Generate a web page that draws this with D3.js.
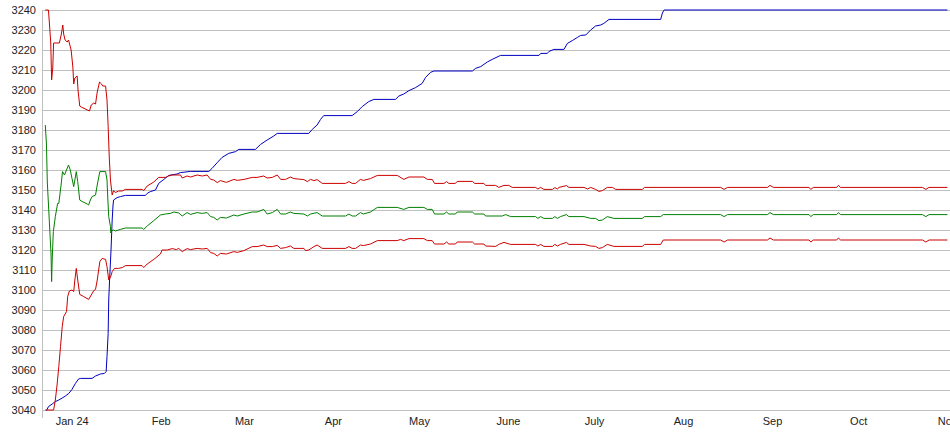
<!DOCTYPE html>
<html>
<head>
<meta charset="utf-8">
<script src="https://cdn.jsdelivr.net/npm/d3@7"></script>
<style>
  body { margin: 0; background: #fff; }
  svg { display: block; }
  .tick text { font-family: "Liberation Sans", Arial, sans-serif; font-size: 11px; fill: #222; }
</style>
</head>
<body>
<svg id="chart" width="950" height="435"></svg>
<script>
'use strict'

// series are [days since start, price]
var startDate = new Date(2023, 11, 22);
var endDate = new Date(2024, 10, 2);

var monthLabels = ["Jan 24", "Feb", "Mar", "Apr", "May", "June", "July", "Aug", "Sep", "Oct", "Nov"];
var priceTicks = [3040, 3050, 3060, 3070, 3080, 3090, 3100, 3110, 3120, 3130, 3140,
  3150, 3160, 3170, 3180, 3190, 3200, 3210, 3220, 3230, 3240];

var upperBand = [
  [0.8, 3240], [1.9, 3240], [2.2, 3234], [2.7, 3223.5], [3.0, 3205], [3.4, 3211], [3.7, 3223.5],
  [5.7, 3223.5], [6.4, 3228], [6.9, 3232.5], [7.2, 3228], [7.7, 3225], [8.4, 3224], [8.9, 3225],
  [9.8, 3220], [10.4, 3211.5], [10.7, 3203], [11.1, 3206], [11.9, 3207], [12.2, 3200], [12.8, 3192],
  [13.3, 3191.5], [16.2, 3189.5], [16.8, 3192.5], [17.7, 3193.5], [18.3, 3193], [18.9, 3199],
  [19.7, 3204], [20.4, 3203], [20.8, 3202], [21.8, 3202], [22.3, 3195], [22.7, 3181.7], [23.1, 3166],
  [23.5, 3155], [24.1, 3147.5], [24.6, 3149.7], [25.2, 3148.7], [26.3, 3149.5], [27.6, 3149.5],
  [28.7, 3150.3], [34.5, 3150.3], [35.1, 3149.7], [36.3, 3152], [38.6, 3154], [40.3, 3156.3],
  [42.7, 3156.3], [43.8, 3157], [45.0, 3157.5], [47.9, 3157.5], [48.5, 3156], [50.2, 3157],
  [51.4, 3156.5], [53.7, 3157.5], [55.5, 3157], [57.2, 3157.5], [58.4, 3155.3], [59.5, 3155],
  [60.7, 3153.7], [61.8, 3154.7], [63.9, 3153.8], [66.5, 3155.3], [67.7, 3154.8], [70.0, 3155.3],
  [72.9, 3156.3], [74.6, 3156.3], [76.9, 3157], [78.1, 3156], [79.9, 3156.3], [81.6, 3157.5],
  [82.8, 3155.3], [84.5, 3155.3], [86.2, 3156.5], [87.4, 3155.7], [90.9, 3155.2], [92.1, 3154.2],
  [93.2, 3155.3], [94.4, 3154.7], [95.5, 3155.2], [97.3, 3153.3], [105.4, 3153.3], [106.6, 3154.2],
  [107.7, 3153.3], [108.9, 3153.3], [110.6, 3155.3], [111.6, 3154.8], [114.1, 3155.7], [116.5, 3157.3],
  [123.4, 3157.3], [125.7, 3155.3], [127.5, 3156.5], [132.7, 3156.5], [133.9, 3155.3], [135.6, 3155.3],
  [136.4, 3153.3], [139.7, 3153.3], [140.6, 3154.2], [141.4, 3153.3], [143.7, 3153.3], [144.3, 3154.3],
  [149.6, 3154.3], [150.4, 3153.3], [153.6, 3153.3], [154.2, 3152.3], [157.7, 3152.3], [158.8, 3151.3],
  [160.6, 3152.3], [162.3, 3152.3], [163.5, 3151.3], [171.6, 3151.3], [172.4, 3150.5], [173.4, 3151.3],
  [174.5, 3150.3], [177.5, 3150.3], [178.3, 3151.2], [179.2, 3150.5], [179.8, 3151.3], [182.4, 3152.2],
  [183.2, 3151.3], [188.5, 3151.3], [189.7, 3150.5], [190.8, 3151.3], [192.5, 3150.3], [193.7, 3149.3],
  [194.9, 3149.7], [196.6, 3151.3], [198.4, 3151.3], [199.5, 3150.3], [208.8, 3150.3], [209.6, 3151.3],
  [236.1, 3151.3], [237.3, 3150.3], [238.5, 3151.3], [252.4, 3151.3], [253.3, 3152.3], [254.5, 3151.3],
  [266.9, 3151.3], [267.5, 3150.3], [268.4, 3151.3], [276.5, 3151.3], [277.1, 3152.3], [277.9, 3151.3],
  [306.4, 3151.3], [307.6, 3150.3], [308.7, 3151.3], [315.1, 3151.3]
];

var midLine = [
  [0.8, 3182.5], [1.2, 3173], [1.5, 3154], [2.0, 3140], [2.4, 3129], [2.8, 3118], [3.0, 3104.2],
  [3.2, 3115], [3.6, 3129.2], [4.3, 3136.7], [5.1, 3143.3], [5.5, 3143.3], [6.3, 3152.5], [6.8, 3159.2],
  [7.5, 3157.5], [7.9, 3159], [8.9, 3162.5], [9.5, 3160], [10.1, 3155.8], [10.7, 3151.7], [11.1, 3155],
  [11.6, 3159.2], [12.1, 3154.2], [12.8, 3145], [13.3, 3144.5], [15.4, 3143], [15.9, 3142.5],
  [16.5, 3145], [17.1, 3146.7], [18.3, 3147.5], [18.9, 3152.5], [19.8, 3159.2], [21.8, 3159.2],
  [22.3, 3155], [22.6, 3145], [22.9, 3136.7], [23.5, 3131.7], [23.6, 3128.5], [24.1, 3129.8],
  [24.6, 3130], [25.2, 3129.5], [27.0, 3130.3], [28.7, 3131], [34.5, 3131], [35.1, 3130.3], [36.3, 3132],
  [38.6, 3134.7], [40.9, 3137.5], [42.7, 3138], [44.4, 3138.3], [45.6, 3139], [47.3, 3138.5],
  [48.5, 3137], [50.2, 3138.7], [51.4, 3137.8], [53.7, 3138.7], [55.5, 3138.3], [57.2, 3138.7],
  [58.4, 3136.7], [59.5, 3136.3], [60.7, 3135], [61.8, 3136.3], [63.9, 3136], [66.5, 3137.5],
  [67.7, 3137], [70.0, 3138], [72.9, 3139], [74.6, 3139], [76.9, 3140.3], [78.1, 3138], [79.9, 3138.7],
  [81.6, 3140.3], [82.8, 3138], [84.5, 3138], [86.2, 3139], [87.4, 3138.3], [90.9, 3138], [92.1, 3137],
  [93.2, 3138], [95.5, 3138.7], [97.3, 3137], [105.4, 3137], [106.6, 3138], [107.7, 3137], [108.9, 3137],
  [110.6, 3138.7], [111.6, 3138], [114.1, 3139], [116.5, 3141.3], [123.4, 3141.3], [125.7, 3140.3],
  [127.5, 3141.3], [132.7, 3141.3], [133.9, 3140.3], [135.6, 3140.3], [136.4, 3138], [139.7, 3138],
  [140.6, 3139], [141.4, 3138], [143.7, 3138], [144.3, 3139], [149.6, 3139], [150.4, 3138], [153.6, 3138],
  [154.2, 3137], [160.0, 3137], [161.2, 3137.7], [162.9, 3136.7], [171.6, 3136.7], [172.4, 3135.8],
  [173.4, 3136.7], [174.5, 3135.8], [177.5, 3135.8], [178.3, 3136.7], [179.2, 3135.8], [180.3, 3136.7],
  [182.4, 3137.7], [183.2, 3136.7], [188.5, 3136.7], [190.8, 3135.8], [192.5, 3135.8], [193.7, 3134.7],
  [194.9, 3135], [196.6, 3136.7], [198.9, 3135.8], [208.8, 3135.8], [209.6, 3136.7], [215.2, 3136.7],
  [216.1, 3137.7], [236.1, 3137.7], [237.3, 3136.7], [238.5, 3137.7], [252.4, 3137.7], [253.3, 3138.7],
  [254.5, 3137.7], [266.9, 3137.7], [267.5, 3136.7], [268.4, 3137.7], [276.5, 3137.7], [277.1, 3138.7],
  [277.9, 3137.7], [306.4, 3137.7], [307.6, 3136.7], [308.7, 3137.7], [315.1, 3137.7]
];

var lowerBand = [
  [0.8, 3040], [3.7, 3040], [4.3, 3045], [4.9, 3052.5], [5.5, 3061.7], [6.1, 3071.7], [6.7, 3081.7],
  [7.2, 3086.7], [8.2, 3089.2], [8.6, 3096.7], [9.2, 3099.5], [10.1, 3100], [10.7, 3099.2], [11.1, 3105],
  [11.6, 3110.8], [12.1, 3105], [12.8, 3097.8], [14.2, 3096.7], [15.9, 3095.3], [16.8, 3097.5],
  [17.7, 3099.7], [18.3, 3100.3], [18.9, 3105], [19.8, 3114.2], [20.6, 3115.8], [21.8, 3115.3],
  [22.3, 3111.7], [22.9, 3105], [23.5, 3106.3], [24.1, 3109.2], [24.9, 3110.8], [26.3, 3110.8],
  [27.6, 3111.2], [28.7, 3112.2], [34.5, 3112.2], [35.1, 3111.2], [36.3, 3113], [38.6, 3115.3],
  [40.9, 3118], [41.5, 3120], [43.3, 3120], [45.0, 3120.7], [46.5, 3120.2], [47.3, 3120.8],
  [48.5, 3119.2], [50.2, 3120.7], [51.4, 3120.2], [53.7, 3120.8], [55.5, 3120.5], [57.2, 3120.8],
  [58.4, 3118.7], [59.5, 3118.3], [60.7, 3117], [61.8, 3118.3], [63.9, 3118], [66.5, 3119.2],
  [67.7, 3118.8], [70.0, 3119.7], [72.9, 3121.7], [74.6, 3121.7], [76.9, 3122.5], [78.1, 3121.7],
  [79.9, 3121.7], [81.6, 3122.3], [82.8, 3120.8], [84.5, 3121.2], [86.2, 3122], [87.4, 3120.8],
  [90.9, 3120.8], [91.5, 3119.7], [92.6, 3120], [94.4, 3121.7], [95.5, 3122.5], [97.3, 3120.8],
  [105.4, 3120.8], [106.6, 3121.7], [107.7, 3120.8], [108.9, 3120.8], [110.6, 3122.5], [111.6, 3122.2],
  [114.1, 3123], [116.5, 3124.7], [123.4, 3124.7], [124.6, 3125.3], [125.7, 3124.7], [127.5, 3125.7],
  [132.7, 3125.7], [133.9, 3124.7], [135.6, 3124.7], [136.4, 3123], [139.7, 3123], [140.6, 3124],
  [141.4, 3123], [143.7, 3123], [144.3, 3124], [149.6, 3124], [150.4, 3123], [153.6, 3123], [154.2, 3122],
  [157.7, 3121.8], [158.8, 3122.8], [160.6, 3123.8], [162.9, 3122.8], [171.6, 3122.8], [172.4, 3122],
  [173.4, 3122.8], [174.5, 3121.8], [177.5, 3121.8], [178.3, 3122.8], [179.2, 3122], [180.3, 3122.8],
  [182.4, 3123.8], [183.2, 3122.8], [188.5, 3122.8], [190.8, 3122], [192.5, 3121.8], [193.7, 3120.8],
  [194.9, 3121.2], [196.6, 3122.8], [198.9, 3121.8], [208.8, 3121.8], [209.6, 3122.8], [215.2, 3122.8],
  [216.1, 3125], [236.1, 3125], [237.3, 3124], [238.5, 3125], [252.4, 3125], [253.3, 3126], [254.5, 3125],
  [266.9, 3125], [267.5, 3124], [268.4, 3125], [276.5, 3125], [277.1, 3126], [277.9, 3125],
  [306.4, 3125], [307.6, 3124], [308.7, 3125], [315.1, 3125]
];

var highLine = [
  [1.2, 3039.7], [1.9, 3041.7], [3.2, 3043], [4.3, 3044.2], [5.5, 3045], [6.7, 3046], [7.8, 3047],
  [9.0, 3048.3], [10.1, 3050.3], [11.3, 3053.3], [12.4, 3055.5], [13.0, 3055.8], [17.1, 3055.8],
  [18.3, 3057], [20.0, 3058], [21.4, 3058.3], [22.0, 3059.2], [22.3, 3066.7], [22.7, 3078.3],
  [22.9, 3095], [23.2, 3105], [23.7, 3120], [24.1, 3135], [24.4, 3142.5], [24.6, 3145], [25.8, 3146.2],
  [27.0, 3146.7], [28.7, 3147.3], [35.7, 3147.3], [36.3, 3148.3], [37.4, 3149.2], [39.2, 3150],
  [40.3, 3153.3], [42.1, 3155.3], [43.8, 3157.3], [46.7, 3158], [47.9, 3158.7], [51.4, 3159.3],
  [57.8, 3159.3], [58.9, 3160.8], [60.7, 3163.7], [62.4, 3166.3], [64.7, 3168.3], [67.1, 3169.2],
  [68.2, 3170.3], [74.0, 3170.3], [75.8, 3172.8], [78.1, 3175], [80.4, 3177], [81.6, 3178.3],
  [92.6, 3178.3], [93.8, 3180.3], [95.5, 3182.5], [96.7, 3185.3], [97.8, 3187.2], [107.7, 3187.2],
  [109.5, 3189.2], [111.2, 3191.7], [113.5, 3194.2], [115.3, 3195.3], [122.8, 3195.3], [124.0, 3197],
  [125.7, 3198], [127.5, 3199.7], [129.8, 3201.2], [132.1, 3203.3], [133.3, 3206.3], [135.0, 3208.8],
  [136.2, 3209.5], [149.6, 3209.5], [150.7, 3210.8], [152.5, 3211.7], [154.8, 3214], [156.5, 3215.3],
  [159.4, 3217.3], [172.8, 3217.3], [173.4, 3218.3], [175.7, 3218.3], [176.3, 3219.3], [178.0, 3220.3],
  [181.5, 3220.3], [182.7, 3223.3], [184.4, 3224.7], [186.2, 3226.3], [187.3, 3227.3], [189.1, 3227.5],
  [190.8, 3230], [192.5, 3232], [194.3, 3232.5], [195.4, 3233.3], [197.2, 3235.3], [215.2, 3235.3],
  [215.8, 3238.5], [216.4, 3240], [315.1, 3240]
];

var series = [
  { name: "high", data: highLine, color: "#0000c0" },
  { name: "upper", data: upperBand, color: "#cc0000" },
  { name: "lower", data: lowerBand, color: "#cc0000" },
  { name: "mid", data: midLine, color: "#007f00" }
];

var svg = d3.select("#chart"),
  margin = { top: 10, right: 0, bottom: 25, left: 43 },
  width = +svg.attr("width"),
  height = +svg.attr("height");

function toDate(days) {
  return new Date(startDate.getTime() + days * 864e5);
}

var x = d3.scaleTime()
  .domain([startDate, endDate])
  .range([margin.left, width - margin.right]);

var y = d3.scaleLinear()
  .domain([3040, 3240])
  .range([height - margin.bottom, margin.top]);

// horizontal grid
svg.append("g")
  .selectAll("line")
  .data(priceTicks)
  .enter()
  .append("line")
  .attr("x1", margin.left - 1)
  .attr("x2", width)
  .attr("y1", function(d) { return Math.round(y(d)) + 0.5; })
  .attr("y2", function(d) { return Math.round(y(d)) + 0.5; })
  .attr("stroke", "#c0c0c0")
  .attr("stroke-width", 1);

// left edge
svg.append("line")
  .attr("x1", margin.left - 0.5)
  .attr("x2", margin.left - 0.5)
  .attr("y1", margin.top)
  .attr("y2", height - margin.bottom + 8)
  .attr("stroke", "#c0c0c0");

var yAxis = d3.axisLeft(y)
  .tickValues(priceTicks)
  .tickSize(0)
  .tickPadding(7)
  .tickFormat(d3.format("d"));

svg.append("g")
  .attr("class", "axis axis--y")
  .attr("transform", "translate(" + margin.left + ",0)")
  .call(yAxis)
  .call(function(g) { g.select(".domain").remove(); });

var monthTicks = d3.timeMonth.range(new Date(2024, 0, 1), new Date(2024, 10, 2));

var xAxis = d3.axisBottom(x)
  .tickValues(monthTicks)
  .tickSize(0)
  .tickPadding(7)
  .tickFormat(function(d, i) { return monthLabels[i]; });

svg.append("g")
  .attr("class", "axis axis--x")
  .attr("transform", "translate(0," + (height - margin.bottom) + ")")
  .call(xAxis)
  .call(function(g) { g.select(".domain").remove(); });

var line = d3.line()
  .x(function(d) { return x(toDate(d[0])); })
  .y(function(d) { return y(d[1]); });

svg.append("g")
  .selectAll("path")
  .data(series)
  .enter()
  .append("path")
  .attr("fill", "none")
  .attr("stroke", function(d) { return d.color; })
  .attr("stroke-width", 1)
  .attr("d", function(d) { return line(d.data); });
</script>
</body>
</html>
